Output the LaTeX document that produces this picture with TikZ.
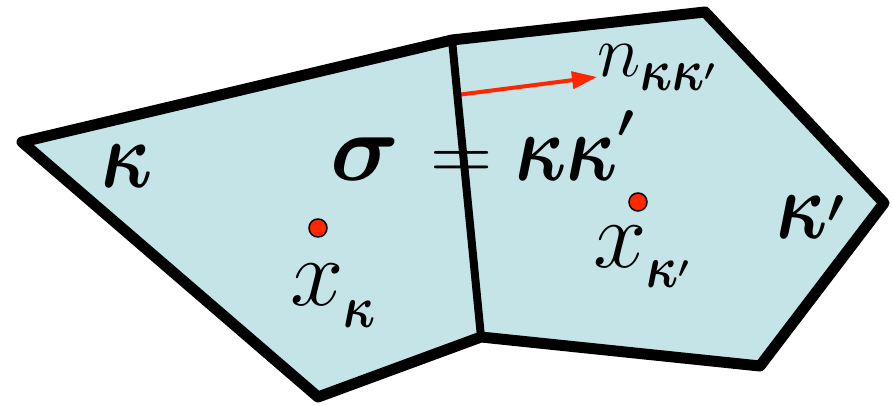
\RequirePackage{fix-cm}
\documentclass[tikz,border=0pt]{standalone}
\usepackage{bm}
\usepackage{tikz}
\usetikzlibrary{arrows.meta,calc}
\definecolor{cellblue}{RGB}{196,228,231}
\definecolor{ptred}{RGB}{255,38,0}
\newcommand{\lowsub}[2][-22pt]{\raisebox{#1}{\fontsize{60}{60}\selectfont #2}}
\newcommand{\lowprime}[1]{\raisebox{#1}{$\scriptscriptstyle\bm{\prime}$}}
\newcommand{\thinkappa}{\scalebox{0.8}[1]{$\bm{\kappa}$}}

\begin{document}
\begin{tikzpicture}[
    x=1pt, y=-1pt,
    cellline/.style={draw=black, line width=11pt, line join=round},
    faceline/.style={draw=black, line width=8pt},
    sym/.style={inner sep=0pt, anchor=base, font=\fontsize{96}{100}\selectfont},
    centrept/.style={circle, draw=black, line width=1.5pt, fill=ptred, minimum size=18pt, inner sep=0pt},
    normalvec/.style={draw=ptred, line width=4pt, -{Triangle[length=25pt,width=17pt]}}
]
    \useasboundingbox (0,0) rectangle (893,406);
    % vertices of the two cells
    \coordinate (A) at (22,142);
    \coordinate (B) at (452,40);
    \coordinate (C) at (481,337);
    \coordinate (D) at (318,397);
    \coordinate (E) at (705,12);
    \coordinate (F) at (884,203);
    \coordinate (G) at (760,366);
    \coordinate (P) at ($(B)!0.185!(C)$);

    \fill[cellblue] (A) -- (B) -- (E) -- (F) -- (G) -- (C) -- (D) -- cycle;

    % normal to the face
    \node[inner sep=0pt, anchor=base west, font=\fontsize{74}{76}\selectfont] (nlab) at (597,77)
        {$n$\lowsub[-14pt]{\thinkappa\thinkappa\lowprime{10pt}}};
    \draw[normalvec] (P) -- (nlab.base west);

    \path[cellline] (A) -- (B) -- (E) -- (F) -- (G) -- (C) -- (D) -- cycle;
    \path[faceline] (B) -- (C);

    % cell centres
    \node[centrept] (xk) at (318,228) {};
    \node[centrept] (xkp) at (638,202) {};

    \node[sym] (k) at (127,187) {\thinkappa};
    \node[sym, anchor=base west] (kp) at (776,238) {\thinkappa\lowprime{16pt}};
    \node[sym] (sig) at (365,180) {$\bm{\sigma}$};
    \node[sym] (eq) at (462,180) {\scalebox{0.9}[0.85]{$\mathbf{=}$}};
    \node[sym, anchor=base west] (kk) at (515,180) {\thinkappa\thinkappa\lowprime{43pt}};
    \node[sym, anchor=base west] (xklab) at (290,305) {$x$\lowsub{\thinkappa}};
    \node[sym, anchor=base west] (xkplab) at (593,267) {$x$\lowsub[-20pt]{\thinkappa\lowprime{10pt}}};
\end{tikzpicture}
\end{document}
